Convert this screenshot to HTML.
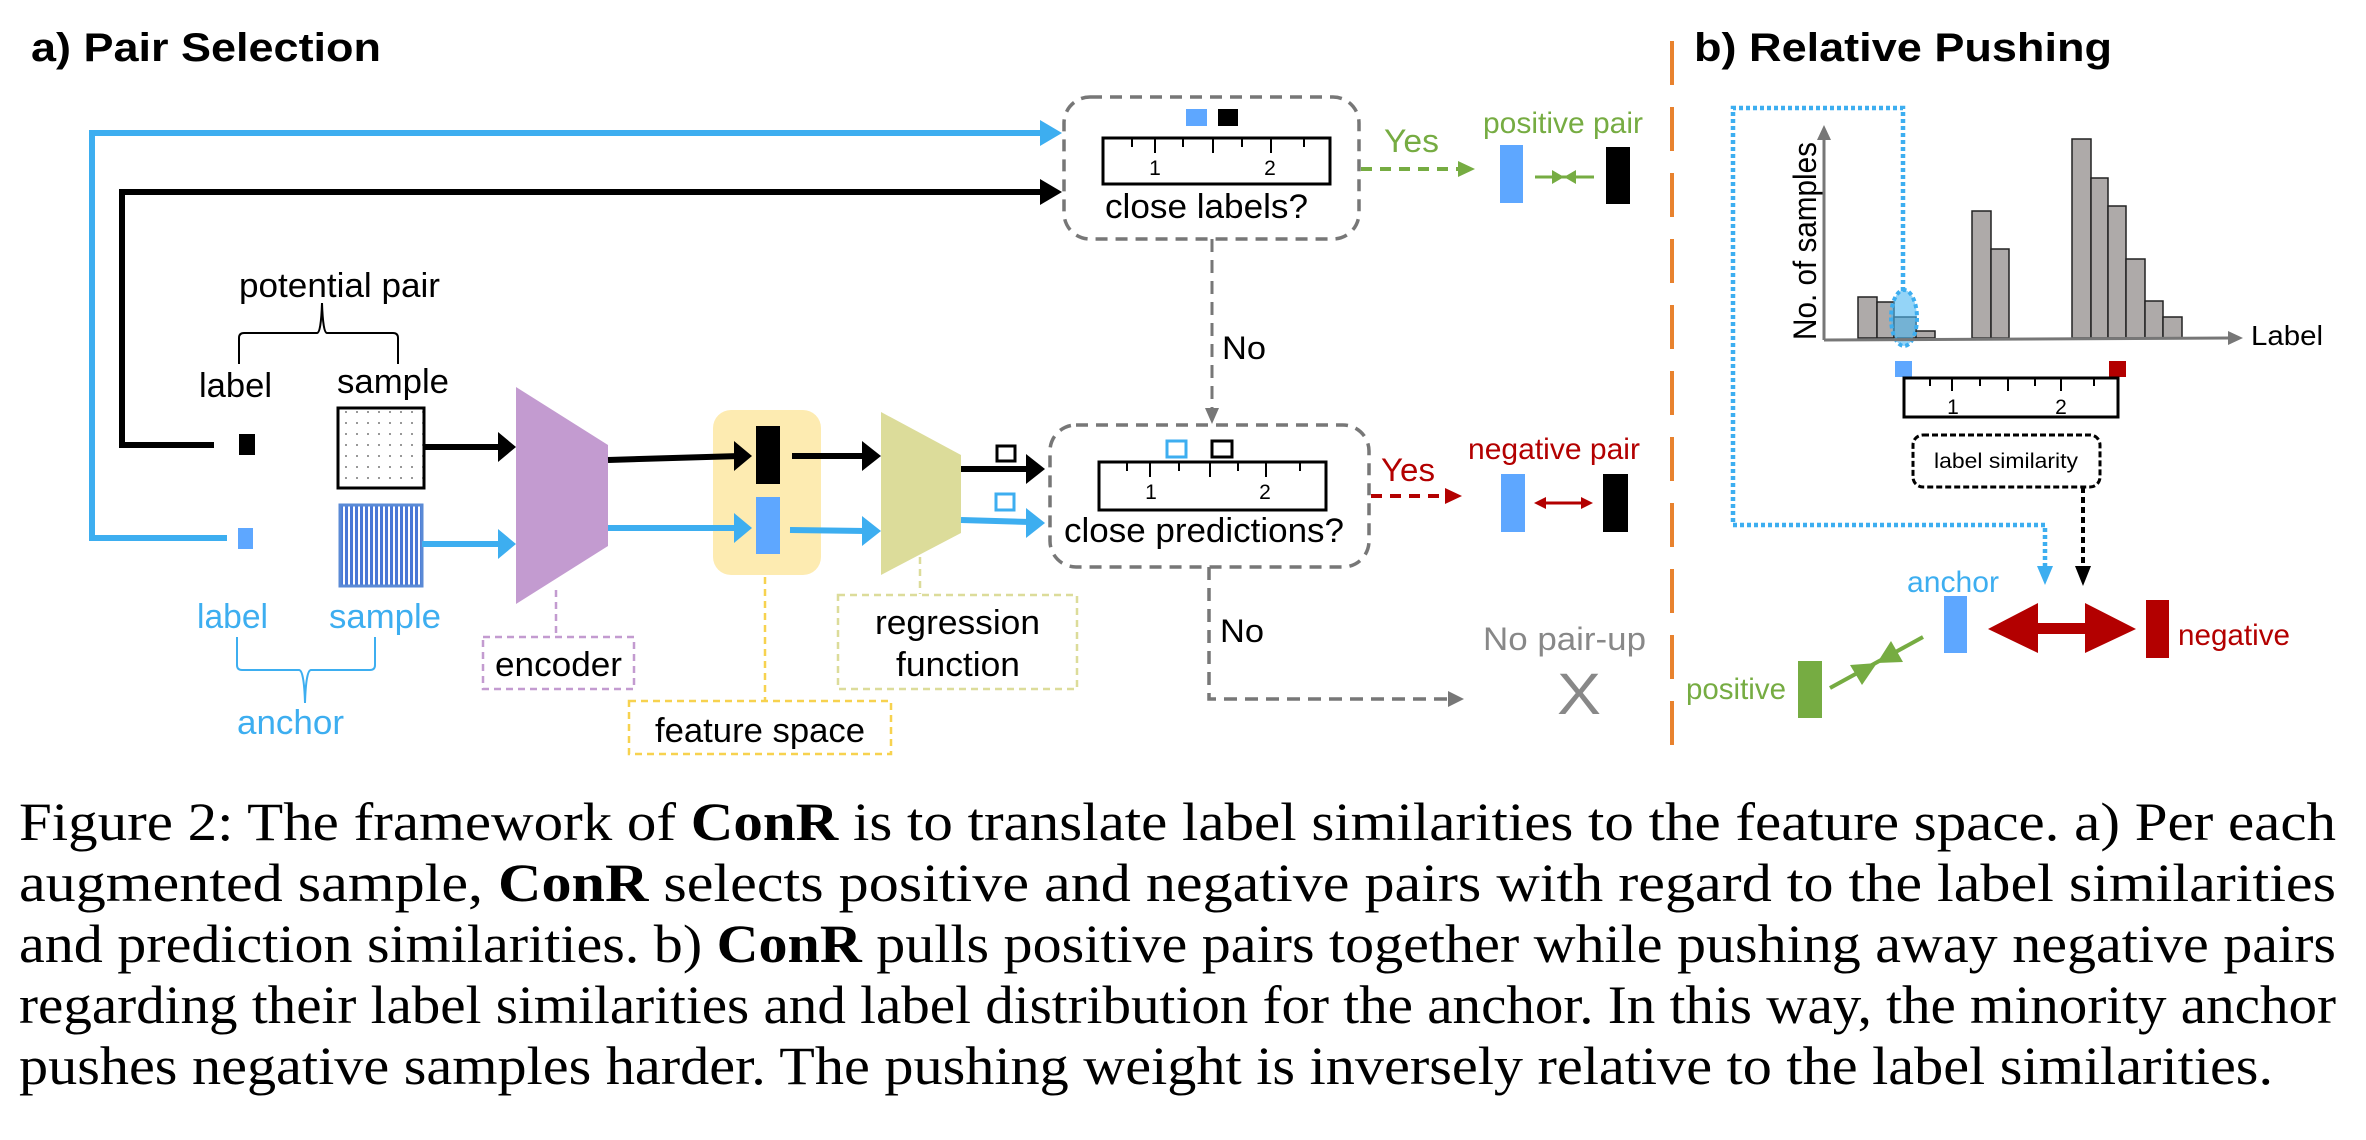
<!DOCTYPE html>
<html><head><meta charset="utf-8"><style>
html,body{margin:0;padding:0;background:#fff;}
svg{display:block;}
.s{font-family:"Liberation Sans",sans-serif;}
.c{font-family:"Liberation Serif",serif;font-size:54px;fill:#000;}
</style></head><body>
<svg width="2366" height="1140" viewBox="0 0 2366 1140" xmlns="http://www.w3.org/2000/svg">
<defs>
<pattern id="dots" width="11" height="11" patternUnits="userSpaceOnUse"><rect width="11" height="11" fill="#fff"/><circle cx="5" cy="5" r="1" fill="#777"/></pattern>
<pattern id="stripes" width="5" height="10" patternUnits="userSpaceOnUse"><rect width="5" height="10" fill="#fff"/><rect width="3" height="10" fill="#4a78d6"/></pattern>
</defs>
<g class="s">
<text x="31" y="61" font-size="40" font-weight="bold" textLength="350" lengthAdjust="spacingAndGlyphs">a) Pair Selection</text>
<text x="1694" y="61" font-size="40" font-weight="bold" textLength="418" lengthAdjust="spacingAndGlyphs">b) Relative Pushing</text>

<polyline points="227,538 92,538 92,133 1045,133" fill="none" stroke="#3daef0" stroke-width="6"/>
<polygon points="1040,120 1062,133 1040,146" fill="#3daef0"/>
<polyline points="214,445 122,445 122,192 1045,192" fill="none" stroke="#000" stroke-width="6"/>
<polygon points="1040,179 1062,192 1040,205" fill="#000"/>

<text x="239" y="297" font-size="34" textLength="201" lengthAdjust="spacingAndGlyphs">potential pair</text>
<path d="M239,364 L239,338 Q239,333 244,333 L317,333 Q321,333 322,303 Q323,333 327,333 L393,333 Q398,333 398,338 L398,364" fill="none" stroke="#000" stroke-width="2"/>
<text x="199" y="397" font-size="34" textLength="73" lengthAdjust="spacingAndGlyphs">label</text>
<text x="337" y="393" font-size="34" textLength="112" lengthAdjust="spacingAndGlyphs">sample</text>
<rect x="239" y="434" width="16" height="21" fill="#000"/>
<rect x="238" y="528" width="15" height="21" fill="#5ea7ff"/>
<rect x="338" y="408" width="86" height="80" fill="url(#dots)" stroke="#000" stroke-width="3"/>
<rect x="340" y="505" width="82" height="81" fill="url(#stripes)" stroke="#5a8ad6" stroke-width="3"/>
<text x="197" y="628" font-size="34" fill="#3daef0" textLength="71" lengthAdjust="spacingAndGlyphs">label</text>
<text x="329" y="628" font-size="34" fill="#3daef0" textLength="112" lengthAdjust="spacingAndGlyphs">sample</text>
<path d="M237,637 L237,665 Q237,670 242,670 L299,670 Q304,670 305,703 Q306,670 311,670 L370,670 Q375,670 375,665 L375,637" fill="none" stroke="#3daef0" stroke-width="2"/>
<text x="237" y="734" font-size="34" fill="#3daef0" textLength="107" lengthAdjust="spacingAndGlyphs">anchor</text>

<line x1="425" y1="447" x2="500" y2="447" stroke="#000" stroke-width="6"/>
<polygon points="498,432 516,447 498,462" fill="#000"/>
<line x1="422" y1="544" x2="500" y2="544" stroke="#3daef0" stroke-width="6"/>
<polygon points="498,529 516,544 498,559" fill="#3daef0"/>

<polygon points="516,387 608,445 608,546 516,604" fill="#c39bd0"/>
<line x1="556" y1="590" x2="556" y2="636" stroke="#c39bd0" stroke-width="2.5" stroke-dasharray="7,5"/>
<rect x="483" y="637" width="151" height="52" fill="none" stroke="#c39bd0" stroke-width="2.5" stroke-dasharray="7,5"/>
<text x="495" y="676" font-size="34" textLength="127" lengthAdjust="spacingAndGlyphs">encoder</text>

<rect x="713" y="410" width="108" height="165" rx="18" fill="#fdebb1"/>
<line x1="608" y1="460" x2="740" y2="456" stroke="#000" stroke-width="6"/>
<polygon points="734,441 752,456 734,471" fill="#000"/>
<line x1="608" y1="528" x2="740" y2="528" stroke="#3daef0" stroke-width="6"/>
<polygon points="734,513 752,528 734,543" fill="#3daef0"/>
<rect x="756" y="426" width="24" height="58" fill="#000"/>
<rect x="756" y="497" width="24" height="57" fill="#5ea7ff"/>
<line x1="765" y1="577" x2="765" y2="700" stroke="#f7d24f" stroke-width="2.5" stroke-dasharray="7,5"/>
<rect x="629" y="701" width="262" height="53" fill="none" stroke="#f7d24f" stroke-width="2.5" stroke-dasharray="7,5"/>
<text x="655" y="742" font-size="34" textLength="210" lengthAdjust="spacingAndGlyphs">feature space</text>

<line x1="792" y1="456" x2="866" y2="456" stroke="#000" stroke-width="6"/>
<polygon points="862,441 881,456 862,471" fill="#000"/>
<line x1="790" y1="530" x2="866" y2="531" stroke="#3daef0" stroke-width="6"/>
<polygon points="862,516 881,531 862,546" fill="#3daef0"/>
<polygon points="881,412 961,455 961,533 881,575" fill="#dcdc9a"/>
<line x1="920" y1="557" x2="920" y2="594" stroke="#dcdc9a" stroke-width="2.5" stroke-dasharray="7,5"/>
<rect x="838" y="595" width="239" height="94" fill="none" stroke="#dcdc9a" stroke-width="2.5" stroke-dasharray="7,5"/>
<text x="875" y="634" font-size="34" textLength="165" lengthAdjust="spacingAndGlyphs">regression</text>
<text x="896" y="676" font-size="34" textLength="124" lengthAdjust="spacingAndGlyphs">function</text>

<rect x="997" y="446" width="18" height="15" fill="none" stroke="#000" stroke-width="3"/>
<rect x="996" y="494" width="18" height="16" fill="none" stroke="#3daef0" stroke-width="3"/>
<line x1="961" y1="469" x2="1030" y2="469" stroke="#000" stroke-width="6"/>
<polygon points="1026,454 1045,469 1026,484" fill="#000"/>
<line x1="961" y1="520" x2="1030" y2="522" stroke="#3daef0" stroke-width="6"/>
<polygon points="1026,508 1045,523 1026,538" fill="#3daef0"/>

<rect x="1064" y="97" width="295" height="142" rx="26" fill="none" stroke="#777" stroke-width="3.5" stroke-dasharray="12,8"/>
<rect x="1186" y="109" width="21" height="17" fill="#5ea7ff"/>
<rect x="1218" y="109" width="20" height="17" fill="#000"/>
<rect x="1103" y="138" width="227" height="46" fill="#fff" stroke="#000" stroke-width="3"/>
<g stroke="#000" stroke-width="2">
<line x1="1155" y1="138" x2="1155" y2="153"/><line x1="1213" y1="138" x2="1213" y2="153"/><line x1="1271" y1="138" x2="1271" y2="153"/>
<line x1="1132" y1="138" x2="1132" y2="147"/><line x1="1183" y1="138" x2="1183" y2="147"/><line x1="1242" y1="138" x2="1242" y2="147"/><line x1="1304" y1="138" x2="1304" y2="147"/>
</g>
<text x="1155" y="175" font-size="21" text-anchor="middle">1</text>
<text x="1270" y="175" font-size="21" text-anchor="middle">2</text>
<text x="1105" y="218" font-size="34" textLength="203" lengthAdjust="spacingAndGlyphs">close labels?</text>

<text x="1384" y="152" font-size="32" fill="#76ac42" textLength="55" lengthAdjust="spacingAndGlyphs">Yes</text>
<line x1="1361" y1="169" x2="1460" y2="169" stroke="#76ac42" stroke-width="4" stroke-dasharray="11,8"/>
<polygon points="1458,161 1475,169 1458,177" fill="#76ac42"/>
<text x="1483" y="133" font-size="30" fill="#76ac42" textLength="160" lengthAdjust="spacingAndGlyphs">positive pair</text>
<rect x="1500" y="145" width="23" height="58" fill="#5ea7ff"/>
<rect x="1606" y="147" width="24" height="57" fill="#000"/>
<line x1="1535" y1="177" x2="1594" y2="177" stroke="#76ac42" stroke-width="3"/>
<polygon points="1552,170 1564,177 1552,184" fill="#76ac42"/>
<polygon points="1576,170 1564,177 1576,184" fill="#76ac42"/>

<line x1="1212" y1="239" x2="1212" y2="410" stroke="#777" stroke-width="3" stroke-dasharray="13,8"/>
<polygon points="1205,408 1212,424 1219,408" fill="#777"/>
<text x="1222" y="359" font-size="32" textLength="44" lengthAdjust="spacingAndGlyphs">No</text>

<rect x="1050" y="425" width="319" height="142" rx="26" fill="none" stroke="#777" stroke-width="3.5" stroke-dasharray="12,8"/>
<rect x="1167" y="441" width="19" height="16" fill="none" stroke="#3daef0" stroke-width="3"/>
<rect x="1212" y="441" width="20" height="16" fill="none" stroke="#000" stroke-width="3"/>
<rect x="1099" y="462" width="227" height="48" fill="#fff" stroke="#000" stroke-width="3"/>
<g stroke="#000" stroke-width="2">
<line x1="1150" y1="462" x2="1150" y2="477"/><line x1="1210" y1="462" x2="1210" y2="477"/><line x1="1266" y1="462" x2="1266" y2="477"/>
<line x1="1127" y1="462" x2="1127" y2="471"/><line x1="1179" y1="462" x2="1179" y2="471"/><line x1="1238" y1="462" x2="1238" y2="471"/><line x1="1300" y1="462" x2="1300" y2="471"/>
</g>
<text x="1151" y="499" font-size="21" text-anchor="middle">1</text>
<text x="1265" y="499" font-size="21" text-anchor="middle">2</text>
<text x="1064" y="542" font-size="34" textLength="280" lengthAdjust="spacingAndGlyphs">close predictions?</text>

<text x="1381" y="481" font-size="32" fill="#b30000" textLength="54" lengthAdjust="spacingAndGlyphs">Yes</text>
<line x1="1371" y1="496" x2="1448" y2="496" stroke="#b30000" stroke-width="4" stroke-dasharray="11,8"/>
<polygon points="1445,488 1462,496 1445,504" fill="#b30000"/>
<text x="1468" y="459" font-size="30" fill="#b30000" textLength="172" lengthAdjust="spacingAndGlyphs">negative pair</text>
<rect x="1501" y="474" width="24" height="58" fill="#5ea7ff"/>
<rect x="1603" y="474" width="25" height="58" fill="#000"/>
<line x1="1542" y1="503" x2="1585" y2="503" stroke="#b30000" stroke-width="3"/>
<polygon points="1546,497 1534,503 1546,509" fill="#b30000"/>
<polygon points="1581,497 1593,503 1581,509" fill="#b30000"/>

<polyline points="1209,567 1209,699 1450,699" fill="none" stroke="#777" stroke-width="3.5" stroke-dasharray="13,8"/>
<polygon points="1448,691 1464,699 1448,707" fill="#777"/>
<text x="1220" y="642" font-size="32" textLength="44" lengthAdjust="spacingAndGlyphs">No</text>
<text x="1483" y="650" font-size="32" fill="#888" textLength="163" lengthAdjust="spacingAndGlyphs">No pair-up</text>
<text x="1557" y="714" font-size="58" fill="#888" textLength="44" lengthAdjust="spacingAndGlyphs">X</text>

<line x1="1672" y1="41" x2="1672" y2="747" stroke="#e8822e" stroke-width="4" stroke-dasharray="44,22"/>

<polyline points="1903,291 1903,108 1733,108 1733,525 2045,525 2045,568" fill="none" stroke="#3daef0" stroke-width="4.5" stroke-dasharray="4,3"/>
<polygon points="2037,566 2045,585 2053,566" fill="#3daef0"/>

<g fill="#aeaaa9" stroke="#222" stroke-width="1.5">
<rect x="1858" y="297" width="19" height="41"/>
<rect x="1877" y="302" width="17" height="36"/>
<rect x="1894" y="317" width="22" height="21"/>
<rect x="1916" y="331" width="19" height="7"/>
<rect x="1972" y="211" width="19" height="127"/>
<rect x="1991" y="249" width="18" height="89"/>
<rect x="2072" y="139" width="19" height="199"/>
<rect x="2091" y="178" width="17" height="160"/>
<rect x="2108" y="206" width="18" height="132"/>
<rect x="2126" y="259" width="19" height="79"/>
<rect x="2145" y="301" width="18" height="37"/>
<rect x="2163" y="317" width="19" height="21"/>
</g>
<ellipse cx="1904" cy="318" rx="13" ry="28" fill="#4db8f2" fill-opacity="0.6" stroke="#3daef0" stroke-width="4" stroke-dasharray="4,3"/>
<line x1="1824" y1="340" x2="1824" y2="138" stroke="#777" stroke-width="3"/>
<polygon points="1817,140 1824,125 1831,140" fill="#777"/>
<line x1="1824" y1="340" x2="2230" y2="338" stroke="#777" stroke-width="3"/>
<polygon points="2228,331 2243,338 2228,345" fill="#777"/>
<text x="2251" y="345" font-size="28" textLength="72" lengthAdjust="spacingAndGlyphs">Label</text>
<text transform="translate(1816,340) rotate(-90)" font-size="32" textLength="198" lengthAdjust="spacingAndGlyphs">No. of samples</text>

<rect x="1895" y="361" width="17" height="16" fill="#5ea7ff"/>
<rect x="2109" y="361" width="17" height="16" fill="#b30000"/>
<rect x="1904" y="378" width="214" height="39" fill="#fff" stroke="#000" stroke-width="3"/>
<g stroke="#000" stroke-width="2">
<line x1="1952" y1="378" x2="1952" y2="391"/><line x1="2008" y1="378" x2="2008" y2="391"/><line x1="2061" y1="378" x2="2061" y2="391"/>
<line x1="1930" y1="378" x2="1930" y2="386"/><line x1="1980" y1="378" x2="1980" y2="386"/><line x1="2035" y1="378" x2="2035" y2="386"/><line x1="2094" y1="378" x2="2094" y2="386"/>
</g>
<text x="1953" y="414" font-size="21" text-anchor="middle">1</text>
<text x="2061" y="414" font-size="21" text-anchor="middle">2</text>
<rect x="1913" y="435" width="187" height="52" rx="10" fill="none" stroke="#000" stroke-width="3" stroke-dasharray="6,3"/>
<text x="1934" y="468" font-size="21" textLength="144" lengthAdjust="spacingAndGlyphs">label similarity</text>
<line x1="2083" y1="487" x2="2083" y2="568" stroke="#000" stroke-width="4" stroke-dasharray="6,4"/>
<polygon points="2075,566 2083,586 2091,566" fill="#000"/>

<text x="1907" y="592" font-size="30" fill="#3daef0" textLength="92" lengthAdjust="spacingAndGlyphs">anchor</text>
<rect x="1944" y="596" width="23" height="57" fill="#5ea7ff"/>
<polygon points="1988,629 2038,603 2038,623 2085,623 2085,603 2136,629 2085,653 2085,634 2038,634 2038,653" fill="#b30000"/>
<rect x="2146" y="600" width="23" height="58" fill="#b30000"/>
<text x="2178" y="645" font-size="30" fill="#b30000" textLength="112" lengthAdjust="spacingAndGlyphs">negative</text>
<rect x="1798" y="661" width="24" height="57" fill="#76ac42"/>
<text x="1686" y="699" font-size="30" fill="#76ac42" textLength="100" lengthAdjust="spacingAndGlyphs">positive</text>
<line x1="1830" y1="688" x2="1923" y2="637" stroke="#76ac42" stroke-width="4"/>
<polygon points="1877,663 1850,665 1862,685" fill="#76ac42"/>
<polygon points="1877,663 1903,662 1891,641" fill="#76ac42"/>
</g>

<text class="c" x="19" y="840" textLength="2317" lengthAdjust="spacingAndGlyphs">Figure 2: The framework of <tspan font-weight="bold">ConR</tspan> is to translate label similarities to the feature space. a) Per each</text>
<text class="c" x="19" y="901" textLength="2317" lengthAdjust="spacingAndGlyphs">augmented sample, <tspan font-weight="bold">ConR</tspan> selects positive and negative pairs with regard to the label similarities</text>
<text class="c" x="19" y="962" textLength="2317" lengthAdjust="spacingAndGlyphs">and prediction similarities. b) <tspan font-weight="bold">ConR</tspan> pulls positive pairs together while pushing away negative pairs</text>
<text class="c" x="19" y="1023" textLength="2317" lengthAdjust="spacingAndGlyphs">regarding their label similarities and label distribution for the anchor. In this way, the minority anchor</text>
<text class="c" x="19" y="1084" textLength="2254" lengthAdjust="spacingAndGlyphs">pushes negative samples harder. The pushing weight is inversely relative to the label similarities.</text>
</svg>
</body></html>
